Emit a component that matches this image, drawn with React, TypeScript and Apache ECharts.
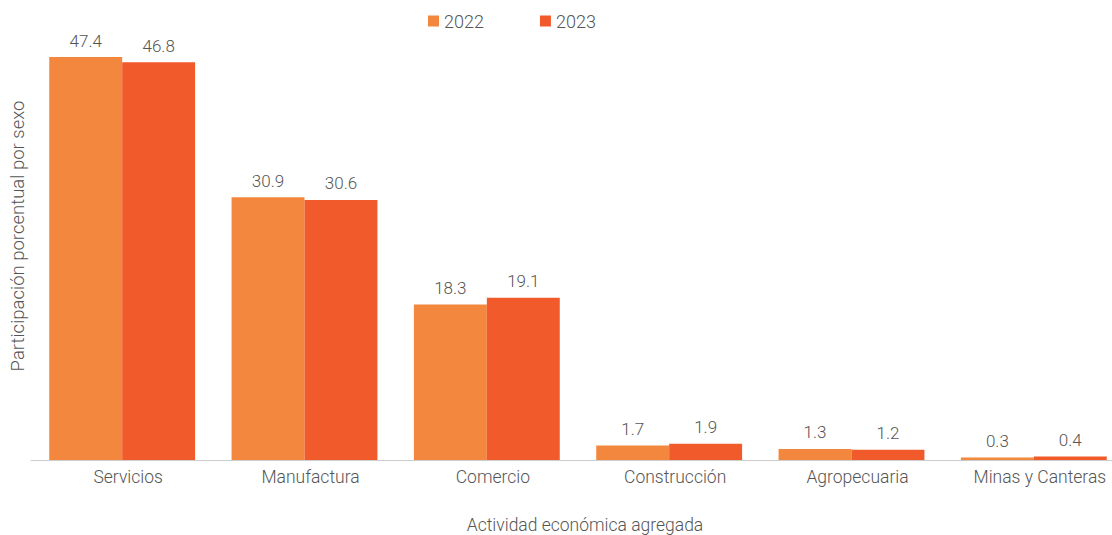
import React, { useEffect, useRef } from "react";
import * as echarts from "echarts";

const categories = ["Servicios", "Manufactura", "Comercio", "Construcción", "Agropecuaria", "Minas y Canteras"];
const values2022 = [47.4, 30.9, 18.3, 1.7, 1.3, 0.3];
const values2023 = [46.8, 30.6, 19.1, 1.9, 1.2, 0.4];
const seriesNames = ["2022", "2023"];
const yTitle = "Participación porcentual por sexo";
const xTitle = "Actividad económica agregada";

const FONT = "Roboto";
const TEXT = "#555555";

export default function App() {
  const ref = useRef<HTMLDivElement>(null);
  useEffect(() => {
    document.body.style.margin = "0";
    if (!ref.current) return;
    const chart = echarts.init(ref.current, undefined, { renderer: "svg" });
    const label = {
      show: true,
      position: "top",
      distance: 8,
      color: TEXT,
      fontFamily: FONT,
      fontWeight: 300,
      fontSize: 17,
      formatter: (p: any) => p.value.toFixed(1),
    };
    chart.setOption({
      animation: false,
      textStyle: { fontFamily: FONT },
      legend: {
        top: 7,
        left: 423,
        itemWidth: 11,
        itemHeight: 11,
        itemGap: 56,
        icon: "rect",
        textStyle: { color: TEXT, fontSize: 18, fontWeight: 300, fontFamily: FONT },
        data: seriesNames,
      },
      graphic: [
        {
          type: "text",
          x: 18,
          y: 236,
          rotation: Math.PI / 2,
          style: {
            text: yTitle,
            fill: TEXT,
            font: `300 18.5px ${FONT}`,
            align: "center",
            verticalAlign: "middle",
          },
        },
      ],
      grid: { left: 31, top: 35, width: 1094, height: 425, containLabel: false, outerBoundsMode: "none" },
      xAxis: {
        type: "category",
        data: categories,
        axisLine: { lineStyle: { color: "#cccccc", width: 1 } },
        axisTick: { show: false },
        axisLabel: {
          color: TEXT,
          fontSize: 17.5,
          fontWeight: 300,
          fontFamily: FONT,
          margin: 8,
          interval: 0,
          padding: [0, 0, 0, 12],
        },
        name: xTitle,
        nameLocation: "middle",
        nameGap: 56,
        nameTextStyle: { color: TEXT, fontSize: 17.5, fontWeight: 300, fontFamily: FONT, padding: [0, 0, 0, 14] },
      },
      yAxis: {
        type: "value",
        min: 0,
        max: 50,
        axisLine: { show: false },
        axisTick: { show: false },
        axisLabel: { show: false },
        splitLine: { show: false },
      },
      series: [
        {
          name: seriesNames[0],
          type: "bar",
          data: values2022,
          barGap: "0%",
          barCategoryGap: "20%",
          itemStyle: { color: "#F4873E" },
          label,
        },
        {
          name: seriesNames[1],
          type: "bar",
          data: values2023,
          barGap: "0%",
          barCategoryGap: "20%",
          itemStyle: { color: "#F15B2B" },
          label,
        },
      ],
    });
    return () => chart.dispose();
  }, []);
  return <div ref={ref} style={{ width: 1112, height: 535 }} />;
}
